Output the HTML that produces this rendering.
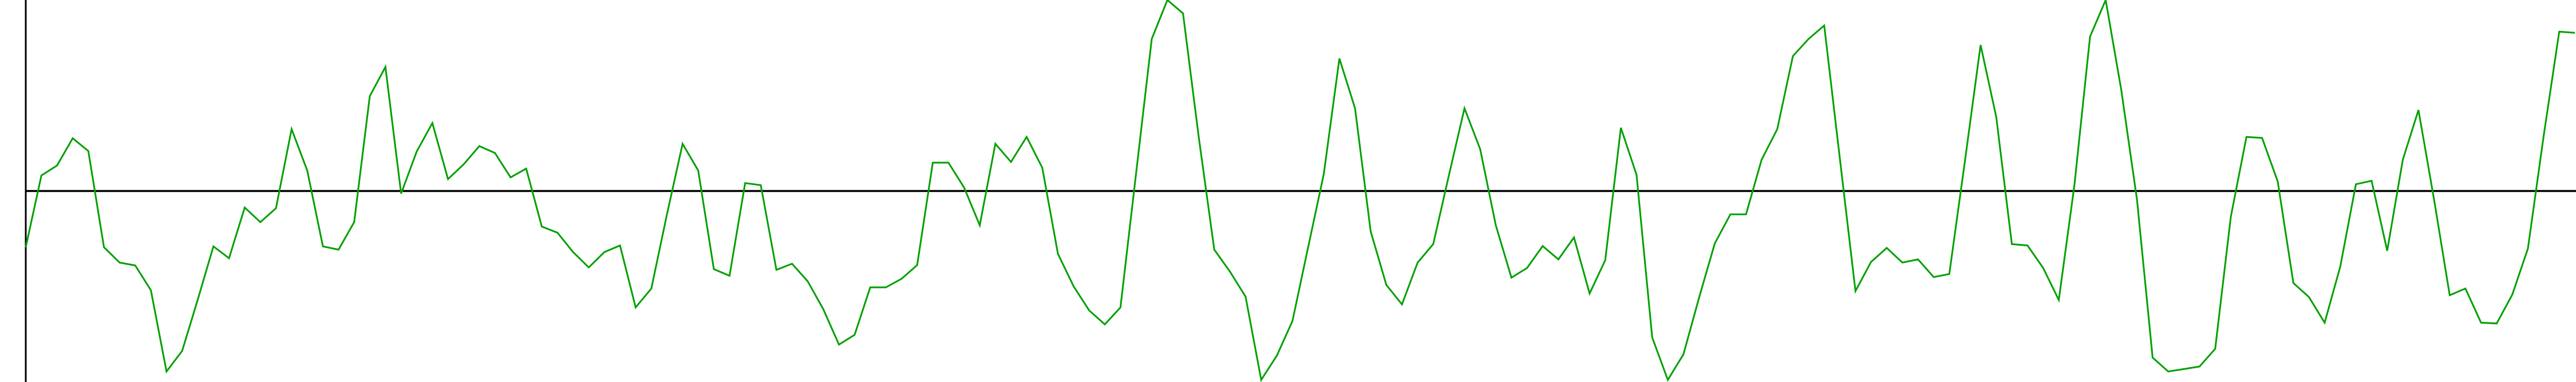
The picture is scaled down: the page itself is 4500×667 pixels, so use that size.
<!DOCTYPE html>
<html><head><meta charset="utf-8"><style>html,body{margin:0;padding:0;background:#fff;}svg{display:block;}</style></head>
<body>
<svg id="chart" width="4500" height="667" viewBox="0 0 4500 667" xmlns="http://www.w3.org/2000/svg">
<line x1="45" y1="0" x2="45" y2="667" stroke="#000" stroke-width="3"/>
<line x1="45" y1="333.5" x2="4500" y2="333.5" stroke="#000" stroke-width="3.5"/>
<polyline id="series" fill="none" stroke="#00a000" stroke-width="3" stroke-linejoin="miter"/>
</svg>
<script>
const values = [-29.6,8.0,13.2,27.5,20.8,-29.6,-37.7,-39.2,-52.2,-94.8,-84.0,-57.1,-29.2,-35.4,-8.8,-16.5,-9.2,32.3,10.6,-29.2,-30.9,-16.5,49.6,64.9,-1.5,20.6,35.5,6.1,13.8,23.4,19.8,7.0,11.6,-18.8,-22.0,-32.2,-40.2,-32.2,-28.7,-61.2,-51.3,-12.4,24.6,10.6,-41.1,-44.6,4.0,2.9,-41.5,-38.3,-47.5,-62.2,-80.7,-75.6,-50.7,-50.7,-46.2,-39.0,14.7,14.7,1.7,-18.1,24.6,15.1,28.2,12.1,-33.1,-50.1,-62.8,-70.1,-61.2,9.3,79.6,100,93.0,28.5,-30.9,-42.4,-55.6,-99.2,-86.5,-68.3,-29.6,8.7,69.3,43.2,-21.3,-49.4,-59.6,-37.7,-28.0,8.0,43.2,21.8,-18.1,-45.6,-40.5,-29.0,-36.0,-24.5,-53.9,-36.4,33.0,8.3,-76.9,-99.2,-85.8,-56.1,-27.7,-12.4,-12.4,16.3,32.3,70.6,79.6,86.6,17.0,-52.6,-37.3,-30.0,-37.7,-36.0,-45.3,-43.7,15.7,76.4,38.7,-28.0,-28.7,-40.5,-57.3,2.9,80.8,100,52.7,-4.7,-87.5,-94.8,-93.5,-92.2,-82.9,-13.7,28.2,27.7,4.9,-48.4,-55.8,-69.2,-39.8,3.4,5.2,-31.5,16.3,42.3,-4.7,-54.8,-51.3,-69.2,-69.6,-54.5,-30.3,28.5,83.4,82.8];
const yDomain = [-100, 100];
function xScale(i){ return 45 + i * (4453 / (values.length - 1)); }
function yScale(v){ return 333 - v * (333 / yDomain[1]); }
const pts = values.map((v,i)=> xScale(i).toFixed(1)+','+yScale(v).toFixed(1)).join(' ');
document.getElementById('series').setAttribute('points', pts);
</script>
</body></html>
